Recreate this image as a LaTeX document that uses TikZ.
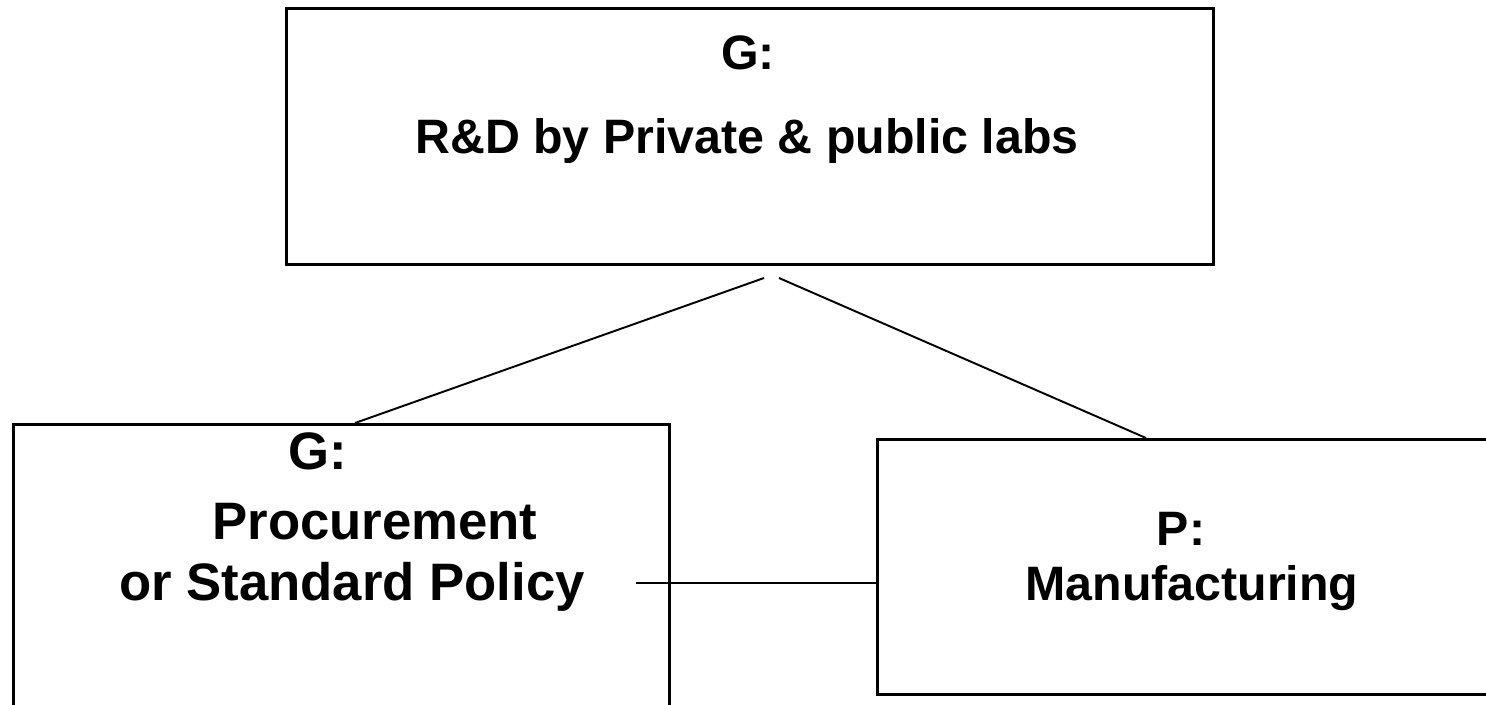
\documentclass[tikz,border=0pt]{standalone}
\usepackage{fontspec}
\setmainfont{Liberation Sans}
\usetikzlibrary{positioning}
\tikzset{
  box/.style={draw, line width=1.7pt, rectangle, inner sep=0pt, anchor=north west},
  caption/.style={font=\fontsize{27.5}{33}\selectfont\bfseries, anchor=base, inner sep=0pt},
  bigcaption/.style={caption, font=\fontsize{30}{36}\selectfont\bfseries},
  wire/.style={line width=1.1pt}
}

\begin{document}
\begin{tikzpicture}[x=0.02cm, y=-0.02cm]
			%%%%% START %%%%%
			\useasboundingbox (0,0) rectangle (1486,704);
			
			% the three boxes
			\node[box, minimum width=18.54cm, minimum height=5.12cm] (rd) at (285,7) {};
			\node[box, minimum width=13.12cm, minimum height=6.3cm] (proc) at (12,423) {};
			\node[box, minimum width=12.8cm, minimum height=5.1cm] (manu) at (876,438) {};
			
			% texts
			\node[caption] (rdhead) at (748,69) {G:};
			\node[caption] (rdtext) at (747,153) {R\&D by Private \& public labs};
			
			\node[bigcaption] (prochead) at (318,469) {G:};
			\node[bigcaption] (proctext) at (375,539) {Procurement};
			\node[bigcaption] (procsub) at (352,600) {or Standard Policy};
			
			\node[caption] (manuhead) at (1181,545) {P:};
			\node[caption] (manutext) at (1192,600) {Manufacturing};
			
			% connectors
			\coordinate (forkL) at (764,278);
			\coordinate (forkR) at (779,278);
			\coordinate (procHook) at (355,0);
			\coordinate (manuHook) at (1146,0);
			\coordinate (tieL) at (636,583);
			
			\draw[wire] (forkL) -- (procHook |- proc.north);
			\draw[wire] (forkR) -- (manuHook |- manu.north);
			\draw[wire] (tieL) -- (tieL -| manu.west);
			
			%%%%% END %%%%%
\end{tikzpicture}
\end{document}
